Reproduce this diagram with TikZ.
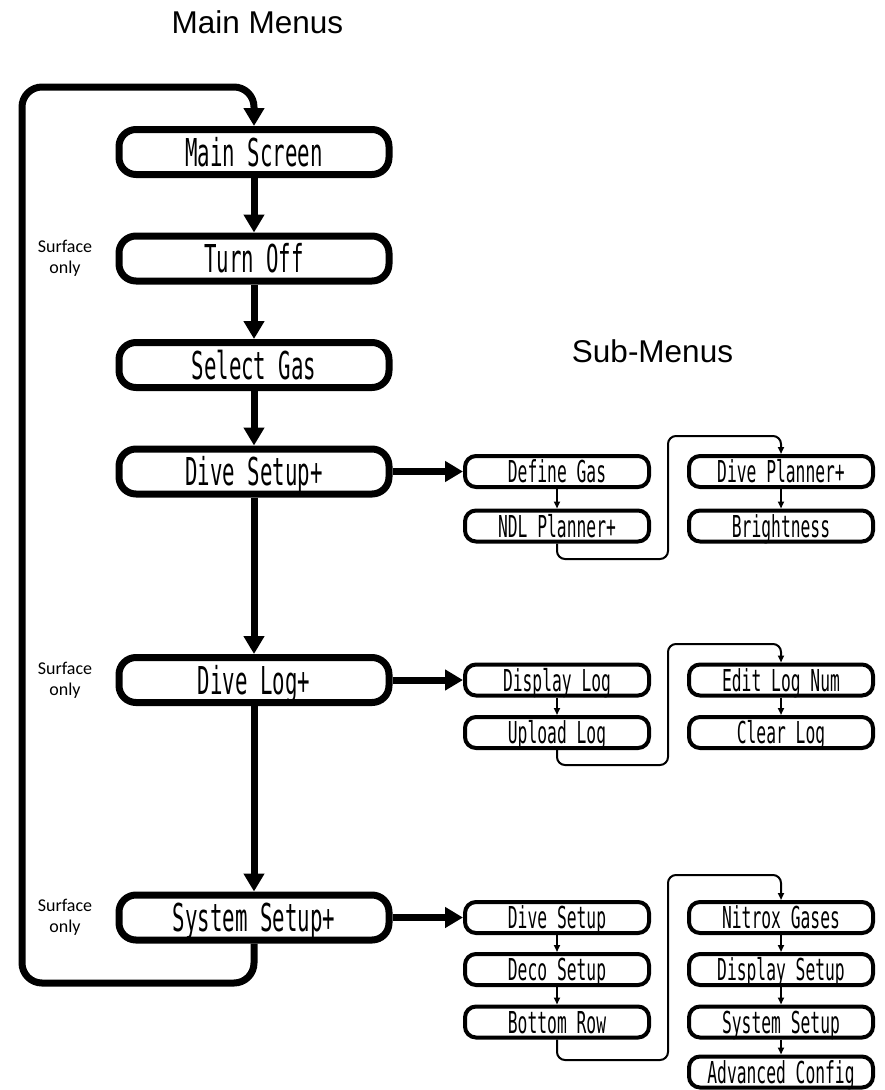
\documentclass[tikz,border=0pt]{standalone}
\usepackage{fontspec}
\usetikzlibrary{arrows.meta}
\newfontfamily\boxfont[FakeStretch=0.54]{DejaVu Sans Mono}
\newfontfamily\titlefont{Liberation Sans}
\newfontfamily\notefont{Carlito}
\begin{document}
\begin{tikzpicture}[x=1pt,y=-1pt,
  mainbox/.style={draw, line width=7pt, rounded corners=17pt, minimum width=270pt, minimum height=45pt, inner sep=0pt, text height=28pt, text depth=0pt, font=\boxfont\fontsize{38.4}{40}\selectfont},
  subbox/.style={draw, line width=4pt, rounded corners=11pt, minimum width=184pt, minimum height=31pt, inner sep=0pt, text height=22pt, text depth=0pt, font=\boxfont\fontsize{30.2}{32}\selectfont},
  bigarrow/.style={line width=7pt, -{Triangle[width=20pt,length=18pt]}},
  smallarrow/.style={line width=2pt, -{Triangle[width=6pt,length=7pt]}},
  note/.style={font=\notefont\fontsize{18}{21}\selectfont, align=center},
  title/.style={font=\titlefont\fontsize{31.5}{36}\selectfont, anchor=base}]
\useasboundingbox (0,0) rectangle (884,1090);

% titles
\node[title] (t1) at (257.5,33) {Main Menus};
\node[title] (t2) at (652.5,362) {Sub-Menus};

% main boxes
\node[mainbox] (ms) at (254,152) {Main Screen};
\node[mainbox] (to) at (254,258.5) {Turn Off};
\node[mainbox] (sg) at (254,365) {Select Gas};
\node[mainbox] (ds) at (254,471.5) {Dive Setup+};
\node[mainbox] (dl) at (254,680) {Dive Log+};
\node[mainbox] (ss) at (254,917.5) {System Setup+};

% notes
\node[note] (n1) at (65,258.5) {Surface\\only};
\node[note] (n2) at (65,680) {Surface\\only};
\node[note] (n3) at (65,917.5) {Surface\\only};

% sub boxes
\node[subbox] (dg) at (557,471.5) {Define Gas};
\node[subbox] (ndl) at (557,526) {NDL Planner+};
\node[subbox] (dp) at (781,471.5) {Dive Planner+};
\node[subbox] (br) at (781,526) {Brightness};

\node[subbox] (dsp) at (557,680) {Display Log};
\node[subbox] (ul) at (557,732.5) {Upload Log};
\node[subbox] (el) at (781,680) {Edit Log Num};
\node[subbox] (cl) at (781,732.5) {Clear Log};

\node[subbox] (dvs) at (557,917.5) {Dive Setup};
\node[subbox] (dcs) at (557,969.5) {Deco Setup};
\node[subbox] (bro) at (557,1022) {Bottom Row};
\node[subbox] (nx) at (781,917.5) {Nitrox Gases};
\node[subbox] (dis) at (781,969.5) {Display Setup};
\node[subbox] (sys) at (781,1022) {System Setup};
\node[subbox] (adv) at (781,1072) {Advanced Config};

% main flow
\draw[bigarrow] (ms.south) -- (to.north);
\draw[bigarrow] (to.south) -- (sg.north);
\draw[bigarrow] (sg.south) -- (ds.north);
\draw[bigarrow] (ds.south) -- (dl.north);
\draw[bigarrow] (dl.south) -- (ss.north);
\draw[bigarrow, rounded corners=20pt] (ss.south) |- (22,983) |- (254,87) -- (ms.north);

% to sub menus
\draw[bigarrow] (ds.east) -- (dg.west);
\draw[bigarrow] (dl.east) -- (dsp.west);
\draw[bigarrow] (ss.east) -- (dvs.west);

% sub flows
\draw[smallarrow] (dg.south) -- (ndl.north);
\draw[smallarrow] (dp.south) -- (br.north);
\draw[smallarrow, rounded corners=8pt] (ndl.south) |- (668,559) -- (668,436) -| (dp.north);

\draw[smallarrow] (dsp.south) -- (ul.north);
\draw[smallarrow] (el.south) -- (cl.north);
\draw[smallarrow, rounded corners=8pt] (ul.south) |- (668,765) -- (668,644) -| (el.north);

\draw[smallarrow] (dvs.south) -- (dcs.north);
\draw[smallarrow] (dcs.south) -- (bro.north);
\draw[smallarrow, rounded corners=8pt] (bro.south) |- (668,1060) -- (668,875) -| (nx.north);
\draw[smallarrow] (nx.south) -- (dis.north);
\draw[smallarrow] (dis.south) -- (sys.north);
\draw[smallarrow] (sys.south) -- (adv.north);
\end{tikzpicture}
\end{document}
